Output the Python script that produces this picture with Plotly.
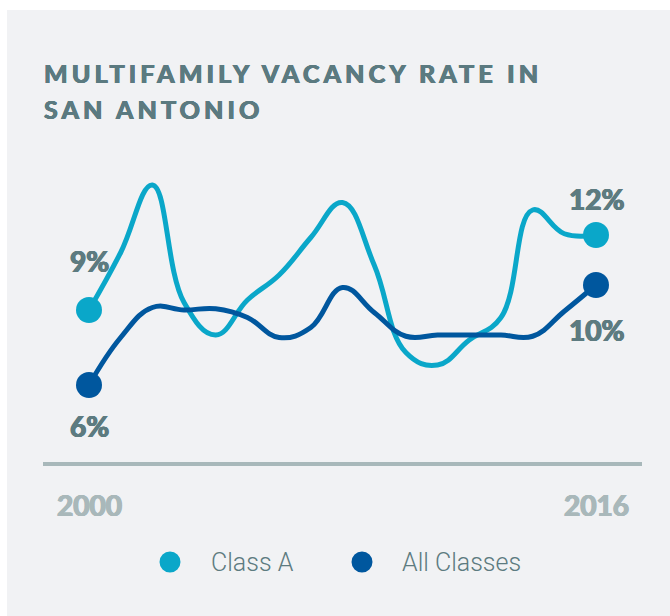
import plotly.graph_objects as go

# Multifamily vacancy rate (%) in San Antonio, 2000-2016
years = list(range(2000, 2017))
class_a = [9.0, 11.3, 14.0, 9.3, 8.0, 9.4, 10.4, 11.9, 13.3, 10.8,
           7.3, 6.8, 7.8, 8.7, 13.0, 12.05, 12.0]
all_classes = [6.0, 7.9, 9.1, 9.0, 9.05, 8.7, 7.9, 8.3, 9.9, 8.9,
               7.95, 8.0, 8.0, 8.0, 7.95, 8.95, 10.0]

series_names = ["Class A", "All Classes"]
series_colors = ["#0aa7c9", "#00579e"]
tick_years = [2000, 2016]

W, H = 670, 616
LABEL = "#5d7b80"
AXIS_TXT = "#a9b8ba"
TITLE = "#5b7a80"


def px(x):
    return x / W


def py(y):
    return 1 - y / H


def heavy(color, d=0.6):
    # thin text-shadow outline to give the bold face a heavier stroke
    return (f"{d}px 0 0 {color}, -{d}px 0 0 {color}, "
            f"0 {d / 2}px 0 {color}, 0 -{d / 2}px 0 {color}")


fig = go.Figure()

for name, vals, color in zip(series_names, [class_a, all_classes], series_colors):
    fig.add_trace(go.Scatter(
        x=years, y=vals, name=name, mode="lines",
        line=dict(color=color, width=5, shape="spline", smoothing=1.2),
        hoverinfo="skip", showlegend=False,
    ))
    # end-point dots
    fig.add_trace(go.Scatter(
        x=[years[0], years[-1]], y=[vals[0], vals[-1]], mode="markers",
        marker=dict(color=color, size=26, line=dict(width=0)),
        hoverinfo="skip", showlegend=False,
    ))

annotations = []

# value labels at the start and end of each series
label_specs = [
    (years[0], class_a[0], 49),
    (years[0], all_classes[0], -41),
    (years[-1], class_a[-1], 36),
    (years[-1], all_classes[-1], -45),
]
for x, v, shift in label_specs:
    annotations.append(dict(
        x=x, y=v, xref="x", yref="y", text=f"{v:.0f}%", showarrow=False,
        yshift=shift, xanchor="center", yanchor="middle",
        font=dict(family="Lato", size=28, color=LABEL, weight="bold",
                  shadow=heavy(LABEL, 0.7)),
    ))

# year labels under the baseline
for yr in tick_years:
    annotations.append(dict(
        x=yr, y=py(505), xref="x", yref="paper", text=str(yr), showarrow=False,
        xanchor="center", yanchor="middle",
        font=dict(family="Lato", size=28, color=AXIS_TXT, weight="bold",
                  shadow=heavy(AXIS_TXT, 0.7)),
    ))

# title, two lines
title_lines = ["MULTIFAMILY VACANCY RATE IN", "SAN ANTONIO"]
for line, yc in zip(title_lines, [73, 109]):
    annotations.append(dict(
        x=px(42), y=py(yc), xref="paper", yref="paper",
        text=f'<span style="letter-spacing:4.2px">{line}</span>',
        showarrow=False, xanchor="left", yanchor="middle",
        font=dict(family="Lato", size=25, color=TITLE, weight="bold",
                  shadow=heavy(TITLE, 0.6)),
    ))

shapes = [
    dict(type="rect", xref="paper", yref="paper", x0=px(7), x1=1, y0=0, y1=py(10),
         fillcolor="#f1f2f4", line=dict(width=0), layer="below"),
    dict(type="line", xref="paper", yref="paper", x0=px(43), x1=px(642),
         y0=py(464), y1=py(464), line=dict(color="#a8b8ba", width=4)),
]

# legend: dot + name for each series
legend_pos = [(170, 209), (362, 400)]
for (cx, tx), name, color in zip(legend_pos, series_names, series_colors):
    r = 10.5
    shapes.append(dict(type="circle", xref="paper", yref="paper",
                       x0=px(cx - r), x1=px(cx + r), y0=py(562 + r), y1=py(562 - r),
                       fillcolor=color, line=dict(width=0)))
    annotations.append(dict(
        x=px(tx), y=py(562), xref="paper", yref="paper", text=name,
        showarrow=False, xanchor="left", yanchor="middle",
        font=dict(family="Roboto", size=25, color="#5d7b80", weight=300),
    ))

# axis ranges: 2000 at x=89px, 2016 at x=596px, 9% at y=310px, 25px per point
x_per = (596 - 89) / 16
x0 = 2000 - 89 / x_per
x1 = x0 + W / x_per
y_top = 9 + 310 / 25
y_bot = 9 - (H - 310) / 25

fig.update_layout(
    width=W, height=H, margin=dict(l=0, r=0, t=0, b=0),
    paper_bgcolor="white", plot_bgcolor="rgba(0,0,0,0)",
    xaxis=dict(range=[x0, x1], visible=False, fixedrange=True),
    yaxis=dict(range=[y_bot, y_top], visible=False, fixedrange=True),
    shapes=shapes, annotations=annotations, showlegend=False,
)

fig.write_html("out.html")
